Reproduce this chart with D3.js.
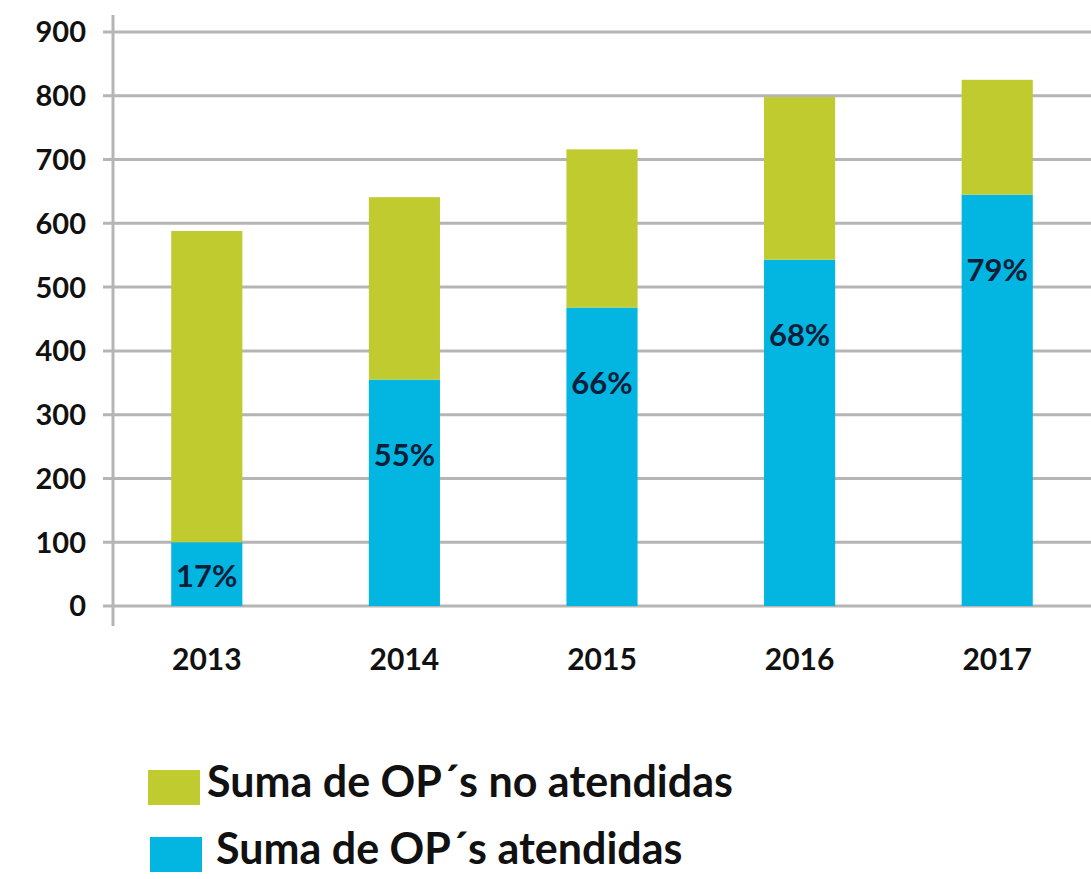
<!DOCTYPE html>
<html>
<head>
<meta charset="utf-8">
<script src="https://cdn.jsdelivr.net/npm/d3@7"></script>
<style>
  body { margin: 0; background: #fff; }
  text { font-family: Lato, "Open Sans", sans-serif; font-weight: bold; }
</style>
</head>
<body>
<div id="chart"></div>
<script>
const years = ["2013", "2014", "2015", "2016", "2017"];
const atendidas = [100, 355, 468, 543, 645];
const noAtendidas = [488, 286, 248, 255, 180];
const pctLabels = ["17%", "55%", "66%", "68%", "79%"];
const yTicks = [0, 100, 200, 300, 400, 500, 600, 700, 800, 900];
const seriesNames = ["Suma de OP´s no atendidas", "Suma de OP´s atendidas"];

const width = 1091, height = 879;
const green = "#bfcb2f", blue = "#03b5e1", gridColor = "#b5b5b5";

const svg = d3.select("#chart").append("svg")
    .attr("width", width)
    .attr("height", height);

const x = d3.scaleBand()
    .domain(years)
    .range([108, 1096])
    .paddingInner(0.64)
    .paddingOuter(0.32);

const y = d3.scaleLinear()
    .domain([0, 900])
    .range([606, 32]);

// gridlines
svg.append("g")
    .selectAll("line")
    .data(yTicks)
    .enter().append("line")
    .attr("x1", 103)
    .attr("x2", width)
    .attr("y1", d => y(d))
    .attr("y2", d => y(d))
    .attr("stroke", gridColor)
    .attr("stroke-width", 3);

// y axis line
svg.append("line")
    .attr("x1", 113).attr("x2", 113)
    .attr("y1", 15).attr("y2", 626)
    .attr("stroke", gridColor)
    .attr("stroke-width", 3);

// y tick labels
svg.append("g")
    .selectAll("text")
    .data(yTicks)
    .enter().append("text")
    .attr("x", 86)
    .attr("y", d => y(d))
    .attr("dy", "0.36em")
    .attr("text-anchor", "end")
    .attr("font-size", 29)
    .attr("fill", "#111")
    .text(d => d);

const table = years.map((yr, i) => ({ year: yr, at: atendidas[i], no: noAtendidas[i] }));
const stack = d3.stack().keys(["at", "no"]);
const layers = stack(table);
const colors = { at: blue, no: green };

svg.append("g")
    .selectAll("g")
    .data(layers)
    .enter().append("g")
    .attr("fill", d => colors[d.key])
    .selectAll("rect")
    .data(d => d)
    .enter().append("rect")
    .attr("x", d => x(d.data.year))
    .attr("width", x.bandwidth())
    .attr("y", d => y(d[1]))
    .attr("height", d => y(d[0]) - y(d[1]));

// percent labels inside the blue part
svg.append("g")
    .selectAll("text")
    .data(table)
    .enter().append("text")
    .attr("x", d => x(d.year) + x.bandwidth() / 2)
    .attr("y", d => Math.min(y(d.at) + 75, y(0) - 30))
    .attr("dy", "0.36em")
    .attr("text-anchor", "middle")
    .attr("font-size", 31)
    .attr("fill", "#0c1f3a")
    .text((d, i) => pctLabels[i]);

// x labels
svg.append("g")
    .selectAll("text")
    .data(years)
    .enter().append("text")
    .attr("x", d => x(d) + x.bandwidth() / 2)
    .attr("y", 659)
    .attr("dy", "0.36em")
    .attr("text-anchor", "middle")
    .attr("font-size", 30)
    .attr("fill", "#111")
    .text(d => d);

// legend
const legend = svg.append("g")
    .selectAll("g")
    .data(seriesNames)
    .enter().append("g")
    .attr("transform", (d, i) => `translate(${148 + i * 2},${770 + i * 67})`);

legend.append("rect")
    .attr("width", 52)
    .attr("height", 35)
    .attr("fill", (d, i) => i === 0 ? green : blue);

legend.append("text")
    .attr("x", (d, i) => 59 + i * 7)
    .attr("y", 12)
    .attr("dy", "0.36em")
    .attr("font-size", 43)
    .attr("fill", "#111")
    .text(d => d);
</script>
</body>
</html>
